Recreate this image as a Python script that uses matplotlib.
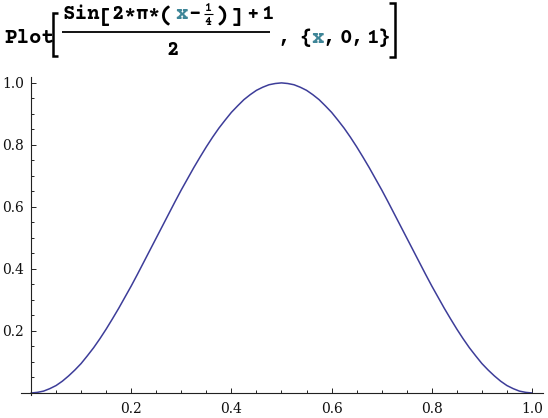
import matplotlib
matplotlib.use("Agg")
import matplotlib.pyplot as plt
from matplotlib.lines import Line2D
from matplotlib.ticker import MultipleLocator, FixedLocator, FixedFormatter
import numpy as np

# ---- data ----
x_vals = np.linspace(0.0, 1.0, 81)
y_vals = [0.000, 0.002, 0.006, 0.014, 0.024, 0.038, 0.055, 0.074, 0.095, 0.120,
          0.146, 0.175, 0.206, 0.239, 0.273, 0.309, 0.345, 0.383, 0.422, 0.461,
          0.500, 0.539, 0.578, 0.617, 0.655, 0.691, 0.727, 0.761, 0.794, 0.825,
          0.854, 0.880, 0.905, 0.926, 0.946, 0.962, 0.976, 0.986, 0.994, 0.998,
          1.000,
          0.998, 0.994, 0.986, 0.976, 0.962, 0.946, 0.926, 0.905, 0.880, 0.854,
          0.825, 0.794, 0.761, 0.727, 0.691, 0.655, 0.617, 0.578, 0.539, 0.500,
          0.461, 0.422, 0.383, 0.345, 0.309, 0.273, 0.239, 0.206, 0.175, 0.146,
          0.120, 0.095, 0.074, 0.055, 0.038, 0.024, 0.014, 0.006, 0.002, 0.000]
x_ticks = [0.2, 0.4, 0.6, 0.8, 1.0]
x_tick_labels = ["0.2", "0.4", "0.6", "0.8", "1.0"]
y_ticks = [0.2, 0.4, 0.6, 0.8, 1.0]
y_tick_labels = ["0.2", "0.4", "0.6", "0.8", "1.0"]

W, H = 548, 418
fig = plt.figure(figsize=(W / 100, H / 100), dpi=100)
fig.patch.set_facecolor("white")

LINE_COLOR = "#3d3d99"
AX_COLOR = "#222222"
TEAL = "#3e8597"

ax = fig.add_axes([21 / W, (H - 395) / H, (543 - 21) / W, (395 - 77) / H])
ax.plot(x_vals, y_vals, color=LINE_COLOR, lw=1.1, solid_capstyle="round")
ax.set_xlim(-0.020, 1.022)
ax.set_ylim(-0.0065, 1.019)

for s in ("top", "right"):
    ax.spines[s].set_visible(False)
ax.spines["left"].set_position(("data", 0))
ax.spines["bottom"].set_position(("data", 0))
for s in ("left", "bottom"):
    ax.spines[s].set_color(AX_COLOR)
    ax.spines[s].set_linewidth(0.8)

ax.xaxis.set_major_locator(FixedLocator(x_ticks))
ax.xaxis.set_major_formatter(FixedFormatter(x_tick_labels))
ax.yaxis.set_major_locator(FixedLocator(y_ticks))
ax.yaxis.set_major_formatter(FixedFormatter(y_tick_labels))
ax.xaxis.set_minor_locator(MultipleLocator(0.05))
ax.yaxis.set_minor_locator(MultipleLocator(0.05))
ax.tick_params(which="both", direction="in", color=AX_COLOR, width=0.7)
ax.tick_params(which="major", length=3.3, labelsize=10,
               labelfontfamily="DejaVu Serif", labelcolor="#111111")
ax.tick_params(which="minor", length=2.0)
ax.tick_params(axis="x", which="major", pad=6.5)
ax.tick_params(axis="y", which="major", pad=5)
ax.patch.set_visible(False)

# ---- title: Mathematica input expression ----
MONO = ["Courier Prime", "Cutive Mono", "Liberation Mono", "DejaVu Sans Mono"]
FS = 15.0


def fx(px):
    return px / W


def fy(py):
    return 1 - py / H


def tok(s, xc, yb, size=FS, color="black", ha="center", weight="bold"):
    fig.text(fx(xc), fy(yb), s, fontsize=size, color=color, ha=ha,
             va="baseline", family=MONO, fontweight=weight)


def fline(xs, ys, lw=1.6):
    fig.add_artist(Line2D([fx(v) for v in xs], [fy(v) for v in ys],
                          transform=fig.transFigure, color="black", lw=lw,
                          solid_capstyle="butt", solid_joinstyle="miter"))


# main line
tok("Plot", 4, 43, ha="left")
fline([58, 53, 53, 58], [13, 13, 56, 56], lw=1.8)        # big [
# numerator
nb = 19
tok("Sin", 63, nb, ha="left")
tok("[", 105.5, nb + 3, size=16)
tok("2", 118, nb)
tok("*", 129, nb + 1)
tok("\u03c0", 141, nb)
tok("*", 153, nb + 1)
tok("(", 166, nb + 3, size=17)
tok("x", 182, nb, color=TEAL)
tok("-", 195, nb)
tok("1", 208, 11, size=8.5)
fline([203.5, 212.5], [14, 14], lw=0.8)
tok("4", 208, 25, size=8.5)
tok(")", 222, nb + 3, size=17)
tok("]", 236, nb + 3, size=16)
tok("+", 252, nb)
tok("1", 267, nb)
fline([62, 270], [32, 32], lw=1.3)                       # fraction bar
tok("2", 173, 55)                                        # denominator
# rest of main line
tok(",", 284, 43)
tok("{", 306, 43)
tok("x", 318, 43, color=TEAL)
tok(",", 329, 43)
tok("0", 346, 43)
tok(",", 357, 43)
tok("1", 372, 43)
tok("}", 384, 43)
fline([389, 395, 395, 389], [3, 3, 57, 57], lw=1.8)      # big ]

fig.savefig("out.png", dpi=100, facecolor="white")
